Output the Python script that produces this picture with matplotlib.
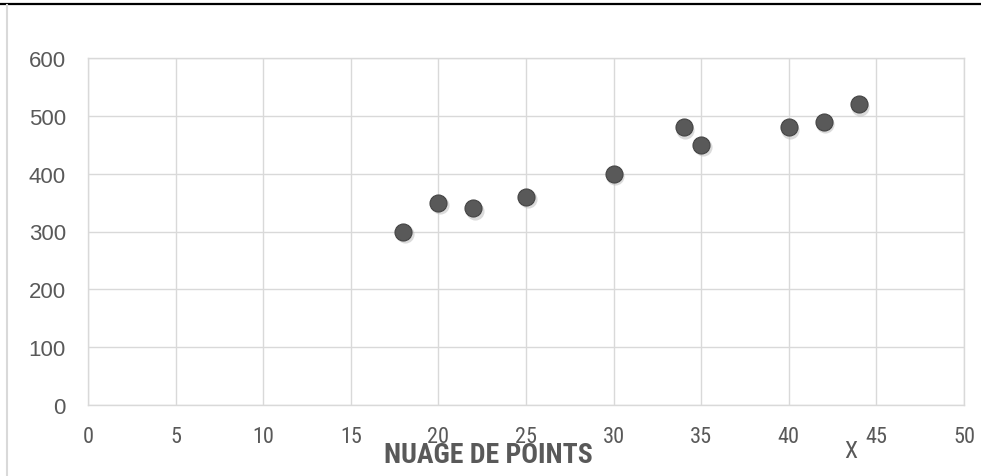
import matplotlib
matplotlib.use("Agg")
import matplotlib.pyplot as plt
import matplotlib.transforms as mtransforms
from matplotlib.lines import Line2D

# data
x_vals = [18, 20, 22, 25, 30, 34, 35, 40, 42, 44]
y_vals = [300, 350, 340, 360, 400, 480, 450, 480, 490, 520]
x_ticks = [0, 5, 10, 15, 20, 25, 30, 35, 40, 45, 50]
y_ticks = [0, 100, 200, 300, 400, 500, 600]
title = "NUAGE DE POINTS"
x_name = "X"

W, H = 981, 477
TEXT = "#595959"
GRID = "#d9d9d9"
NARROW = ["Roboto Condensed", "Archivo Narrow", "Liberation Sans"]

fig = plt.figure(figsize=(W / 100, H / 100), dpi=100)
ax = fig.add_axes([88 / W, 1 - 406 / H, (964 - 88) / W, (406 - 59) / H])

ax.set_xlim(0, 50)
ax.set_ylim(0, 600)
ax.set_xticks(x_ticks)
ax.set_yticks(y_ticks)
ax.grid(True, color=GRID, linewidth=1.0)
ax.set_axisbelow(True)
for s in ax.spines.values():
    s.set_color(GRID)
    s.set_linewidth(1.0)
ax.tick_params(length=0, colors=TEXT)
ax.tick_params(axis="x", pad=15)
ax.tick_params(axis="y", pad=16)
for lab in ax.get_xticklabels():
    lab.set_fontfamily(NARROW)
    lab.set_fontsize(16)
for lab in ax.get_yticklabels():
    lab.set_fontfamily(["Liberation Sans", "DejaVu Sans"])
    lab.set_fontsize(16)

# soft shadow under each marker, then the marker itself
shadow = mtransforms.offset_copy(ax.transData, fig=fig, x=1.5, y=-2.5, units="dots")
ax.scatter(x_vals, y_vals, s=170, color="#b0b0b0", alpha=0.45, linewidths=0,
           transform=shadow, zorder=2, clip_on=False)
ax.scatter(x_vals, y_vals, s=150, color="#595959", edgecolors="#444444",
           linewidths=0.8, zorder=3, clip_on=False)

fig.text(488 / W, 1 - 456 / H, title, ha="center", va="center", color=TEXT,
         fontsize=20, fontweight="bold", family=NARROW)
fig.text(851 / W, 1 - 452 / H, x_name, ha="center", va="center", color=TEXT,
         fontsize=17, family=NARROW)

# frame pieces of the original screenshot
fig.add_artist(Line2D([0, 1], [1 - 4.5 / H, 1 - 4.5 / H], transform=fig.transFigure,
                      color="black", linewidth=1.6))
fig.add_artist(Line2D([7 / W, 7 / W], [0, 1 - 6 / H], transform=fig.transFigure,
                      color=GRID, linewidth=1.5))

fig.savefig("out.png", dpi=100)
